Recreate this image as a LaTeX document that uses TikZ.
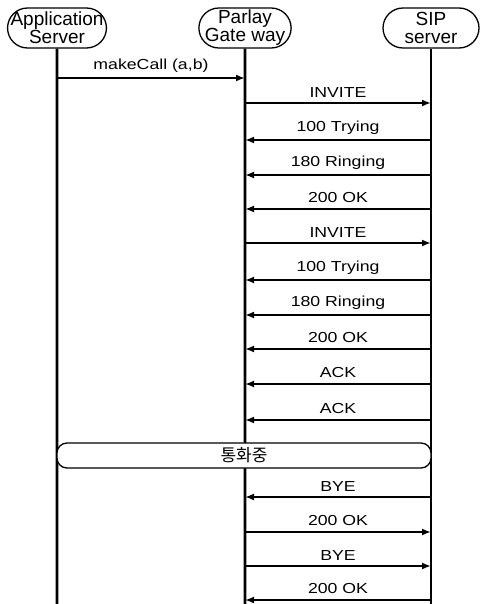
\documentclass[tikz,border=0pt]{standalone}
\usepackage{fontspec}
\setmainfont{Liberation Sans}
\newfontfamily\cjk{Noto Sans CJK KR}
\usepackage{graphicx}
\usetikzlibrary{arrows.meta,shapes.misc,positioning}

\tikzset{
  head/.style={draw, line width=1.3pt, rounded rectangle, minimum width=86pt,
    minimum height=40pt, inner xsep=-5pt, inner ysep=0pt, align=center,
    font=\fontsize{19}{18}\selectfont},
  life/.style={line width=2.8pt},
  msg/.style={line width=1.8pt, -{Latex[length=9pt,width=7pt]}},
  lbl/.style={midway, above=3pt, inner sep=2pt, font=\fontsize{14.5}{14.5}\selectfont},
  talkbox/.style={draw, fill=white, line width=1.3pt, rounded corners=10pt,
    minimum width=374pt, minimum height=25pt, inner sep=0pt,
    font=\fontsize{17}{17}\selectfont\cjk}
}
\newcommand{\wide}[1]{\scalebox{1.22}[1]{#1}}

\begin{document}
\begin{tikzpicture}[x=1pt, y=1pt]
  \useasboundingbox (0,0) rectangle (490,-604);

  % entities
  \node[head] (as) at (57,-28) {Application\\Server};
  \node[head] (pgw) at (245,-28) {Parlay\\Gate way};
  \node[head] (sip) at (431,-28) {SIP\\server};

  % life lines
  \coordinate (asEnd) at (57,-604);
  \coordinate (pgwEnd) at (245,-604);
  \coordinate (sipEnd) at (431,-604);
  \draw[life] (as) -- (asEnd);
  \draw[life] (pgw) -- (pgwEnd);
  \draw[life] (sip) -- (sipEnd);

  % call setup
  \draw[msg] (as |- 0,-78) -- (pgw |- 0,-78) node[lbl] {\wide{makeCall (a,b)}};
  \draw[msg] (pgw |- 0,-103) -- (sip |- 0,-103) node[lbl] {\wide{INVITE}};
  \draw[msg] (sip |- 0,-140) -- (pgw |- 0,-140) node[lbl] {\wide{100 Trying}};
  \draw[msg] (sip |- 0,-175) -- (pgw |- 0,-175) node[lbl] {\wide{180 Ringing}};
  \draw[msg] (sip |- 0,-209) -- (pgw |- 0,-209) node[lbl] {\wide{200 OK}};
  \draw[msg] (pgw |- 0,-243) -- (sip |- 0,-243) node[lbl] {\wide{INVITE}};
  \draw[msg] (sip |- 0,-280) -- (pgw |- 0,-280) node[lbl] {\wide{100 Trying}};
  \draw[msg] (sip |- 0,-315) -- (pgw |- 0,-315) node[lbl] {\wide{180 Ringing}};
  \draw[msg] (sip |- 0,-349) -- (pgw |- 0,-349) node[lbl] {\wide{200 OK}};
  \draw[msg] (sip |- 0,-384) -- (pgw |- 0,-384) node[lbl] {\wide{ACK}};
  \draw[msg] (sip |- 0,-420) -- (pgw |- 0,-420) node[lbl] {\wide{ACK}};

  % talking
  \node[talkbox] (talk) at (244,-455.5) {통화중};

  % release
  \draw[msg] (sip |- 0,-497) -- (pgw |- 0,-497) node[lbl] {\wide{BYE}};
  \draw[msg] (pgw |- 0,-532) -- (sip |- 0,-532) node[lbl] {\wide{200 OK}};
  \draw[msg] (pgw |- 0,-566) -- (sip |- 0,-566) node[lbl] {\wide{BYE}};
  \draw[msg] (sip |- 0,-600) -- (pgw |- 0,-600) node[lbl] {\wide{200 OK}};
\end{tikzpicture}
\end{document}
